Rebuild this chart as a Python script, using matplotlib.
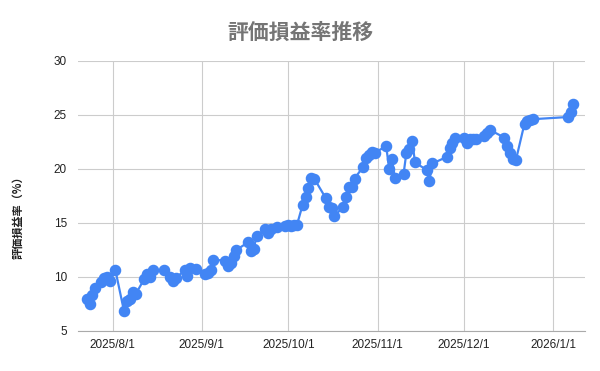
import datetime as dt
import matplotlib
matplotlib.use('Agg')
import matplotlib.pyplot as plt
import matplotlib.dates as mdates

plt.rcParams['font.family'] = ['Liberation Sans', 'Noto Sans CJK JP', 'DejaVu Sans']

## data: days since 2025/8/1 and unrealized gain ratio (%)
day_offset = [-9, -8, -7, -6, -4, -3, -2, -1, 1, 4, 5, 6, 7, 8, 11, 12, 13, 14,
              18, 20, 21, 22, 25, 26, 27, 29, 32, 33, 34, 35, 39, 40, 41, 42, 43,
              47, 48, 49, 50, 53, 54, 55, 57, 60, 61, 62, 63, 64, 66, 67, 68, 69, 70,
              74, 75, 76, 77, 80, 81, 82, 83, 84, 87, 88, 89, 90, 91, 95, 96, 97, 98,
              101, 102, 103, 104, 105, 109, 110, 111, 116, 117, 118, 119, 122, 123,
              124, 125, 126, 129, 130, 131, 136, 137, 138, 139, 140, 143, 144, 145,
              146, 158, 159, 160]
ratio = [8.0, 7.5, 8.3, 9.0, 9.5, 9.9, 10.0, 9.6, 10.6, 6.8, 7.8, 8.0, 8.6, 8.4,
         9.8, 10.3, 10.0, 10.6, 10.6, 10.0, 9.6, 9.9, 10.6, 10.1, 10.8, 10.7, 10.3,
         10.4, 10.6, 11.6, 11.5, 11.0, 11.3, 11.9, 12.5, 13.2, 12.4, 12.6, 13.8,
         14.4, 14.1, 14.4, 14.6, 14.7, 14.8, 14.7, 14.8, 14.8, 16.7, 17.4, 18.2,
         19.2, 19.1, 17.3, 16.5, 16.4, 15.6, 16.5, 17.4, 18.3, 18.3, 19.1, 20.2,
         21.0, 21.3, 21.6, 21.5, 22.1, 20.0, 20.9, 19.2, 19.5, 21.5, 21.8, 22.6,
         20.6, 19.9, 18.9, 20.5, 21.1, 21.9, 22.4, 22.9, 22.9, 22.4, 22.8, 22.8,
         22.8, 23.0, 23.3, 23.6, 22.9, 22.1, 21.5, 20.9, 20.8, 24.2, 24.4, 24.5,
         24.6, 24.8, 25.3, 26.0]

base = dt.date(2025, 8, 1)
dates = [base + dt.timedelta(days=d) for d in day_offset]
tick_dates = [dt.date(2025, 8, 1), dt.date(2025, 9, 1), dt.date(2025, 10, 1),
              dt.date(2025, 11, 1), dt.date(2025, 12, 1), dt.date(2026, 1, 1)]
tick_labels = ['2025/8/1', '2025/9/1', '2025/10/1', '2025/11/1', '2025/12/1', '2026/1/1']

fig = plt.figure(figsize=(6, 3.71), dpi=100, facecolor='w')
ax = fig.add_axes([0.13, 0.108, 0.845, 0.728])

ax.plot(dates, ratio, color='#4285F4', lw=1.6, marker='o', ms=7.3, zorder=3)

ax.set_xlim(base + dt.timedelta(days=-11.3), base + dt.timedelta(days=164.6))
ax.set_ylim(5, 30)
ax.set_yticks([5, 10, 15, 20, 25, 30])
ax.set_xticks(tick_dates)
ax.set_xticklabels(tick_labels)
ax.tick_params(length=0, labelsize=8.5, colors='#222222')
ax.tick_params(axis='y', pad=8)
ax.tick_params(axis='x', pad=6)

ax.grid(True, color='#cccccc', lw=0.8)
ax.set_axisbelow(True)
for s in ['top', 'right', 'left']:
    ax.spines[s].set_visible(False)
ax.spines['bottom'].set_color('#aaaaaa')

ax.set_ylabel('評価損益率（%）', fontsize=8, fontweight='bold', color='#222222',
              family=['Noto Sans CJK JP', 'DejaVu Sans'])
ax.yaxis.set_label_coords(-0.105, 0.43)
fig.text(0.5, 0.912, '評価損益率推移', ha='center', va='center', fontsize=15,
         fontweight='bold', color='#757575', family=['Noto Sans CJK JP', 'DejaVu Sans'])

plt.savefig('out.png', dpi=100)
